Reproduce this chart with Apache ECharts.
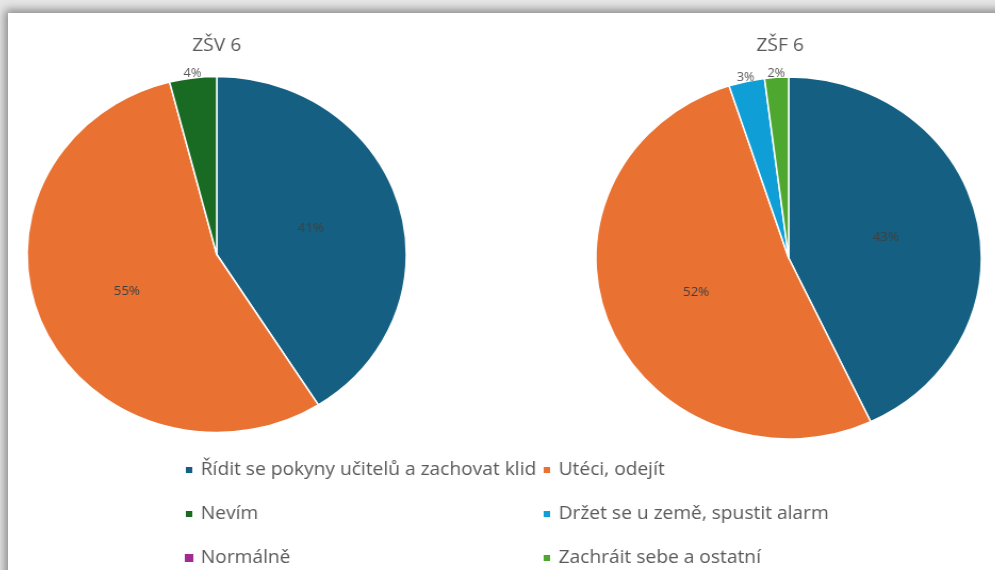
<!DOCTYPE html>
<html>
<head>
<meta charset="utf-8">
<script src="https://cdn.jsdelivr.net/npm/echarts@6/dist/echarts.min.js"></script>
<style>
  html, body { margin: 0; padding: 0; }
  body { width: 995px; height: 570px; overflow: hidden; background: #e6e6e6; position: relative; }
  #frame {
    position: absolute; left: 8px; top: 13px; width: 1000px; height: 570px;
    background: #fff; box-shadow: 0 0 9px 3px rgba(0, 0, 0, 0.42);
  }
  /* the source picture is slightly stretched sideways */
  #chart {
    position: absolute; left: 0; top: 0; width: 930px; height: 557px;
    transform: scaleX(1.065); transform-origin: 0 0;
  }
</style>
</head>
<body>
<div id="frame"><div id="chart"></div></div>
<script>
const categories = [
  'Řídit se pokyny učitelů a zachovat klid',
  'Utéci, odejít',
  'Nevím',
  'Držet se u země, spustit alarm',
  'Normálně',
  'Zachráit sebe a ostatní'
];
const colors = ['#156082', '#E97132', '#196B24', '#0F9ED5', '#A02B93', '#4EA72E'];

const titles = ['ZŠV 6', 'ZŠF 6'];
// percentages per category, same order as categories
const zsvValues = [41, 55, 4, 0, 0, 0];
const zsfValues = [43, 52, 0, 3, 0, 2];

const leftLegend = [categories[0], categories[2], categories[4]];
const rightLegend = [categories[1], categories[3], categories[5]];

const myChart = echarts.init(document.getElementById('chart'));

function makeData(values) {
  return categories
    .map((name, i) => ({ name, value: values[i], color: colors[i] }))
    .filter(d => d.value > 0)
    .map(d => {
      const item = { name: d.name, value: d.value, itemStyle: { color: d.color } };
      if (d.value < 10) {
        item.label = { position: 'outside', color: '#595959', fontSize: 12, distanceToLabelLine: 0 };
        item.labelLine = { show: false, length: 4, length2: 0 };
      }
      return item;
    });
}

function makeSeries(values, center, r, name) {
  return {
    name: name,
    type: 'pie',
    radius: [0, r],
    center: center,
    startAngle: 90,
    clockwise: true,
    avoidLabelOverlap: false,
    itemStyle: { borderColor: '#fff', borderWidth: 1.5 },
    label: {
      show: true,
      position: 'inside',
      formatter: '{d}%',
      color: '#404040',
      fontSize: 12.5,
      fontFamily: 'Open Sans'
    },
    labelLine: { show: false },
    labelLayout: () => ({ align: 'center' }),
    emphasis: { disabled: true },
    data: makeData(values)
  };
}

const titleStyle = { color: '#595959', fontSize: 18, fontWeight: 'normal', fontFamily: 'Open Sans' };
const legendText = { color: '#595959', fontSize: 18, fontFamily: 'Open Sans', lineHeight: 20, padding: [0, 0, 0, 2] };

const option = {
  animation: false,
  title: [
    { text: titles[0], left: 196, top: 24, textAlign: 'center', padding: 0, textStyle: titleStyle },
    { text: titles[1], left: 725, top: 24, textAlign: 'center', padding: 0, textStyle: titleStyle }
  ],
  legend: [
    { data: leftLegend, orient: 'vertical', left: 165, top: 447, itemGap: 24, padding: 0,
      itemWidth: 8, itemHeight: 8, icon: 'rect', textStyle: legendText, selectedMode: false },
    { data: rightLegend, orient: 'vertical', left: 501, top: 447, itemGap: 24, padding: 0,
      itemWidth: 8, itemHeight: 8, icon: 'rect', textStyle: legendText, selectedMode: false }
  ],
  color: colors,
  series: [
    makeSeries(zsvValues, [196, 241.5], 178, titles[0]),
    makeSeries(zsfValues, [733, 245], 181, titles[1]),
    // empty series so every legend entry (also Normálně) has its colour
    {
      type: 'pie', radius: [0, 0], center: [-200, -200], silent: true,
      label: { show: false }, labelLine: { show: false },
      data: categories.map((name, i) => ({ name, value: 1, itemStyle: { color: colors[i] } }))
    }
  ]
};
myChart.setOption(option);
</script>
</body>
</html>
